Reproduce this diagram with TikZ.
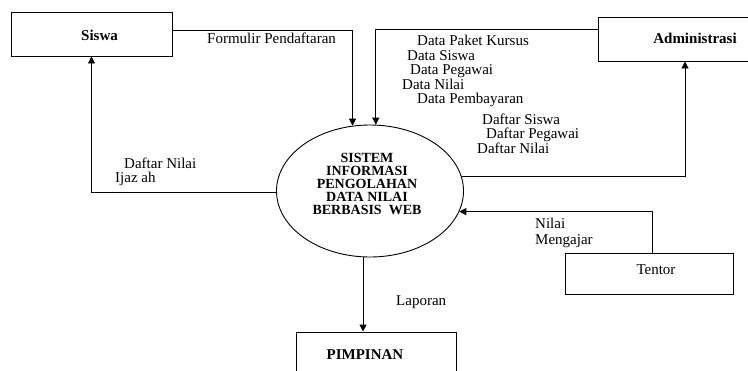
\documentclass[tikz,border=0pt]{standalone}
\usepackage{fontspec}
\setmainfont{Liberation Serif}
\usetikzlibrary{arrows.meta,shapes.geometric}
\begin{document}
\begin{tikzpicture}[x=1pt,y=-1pt,
  every node/.style={font=\fontsize{15}{12.75}\selectfont},
  box/.style={draw,line width=0.9pt,rectangle,inner sep=0pt},
  btxt/.style={font=\fontsize{15}{12.75}\selectfont\bfseries},
  etxt/.style={font=\fontsize{14}{12.9}\selectfont\bfseries},
  lbl/.style={anchor=base west,inner sep=0pt},
  arr/.style={draw,line width=0.9pt,-{Triangle[length=7pt,width=7pt]}},
  ln/.style={draw,line width=0.9pt}]
\useasboundingbox (0,0) rectangle (748,370);
\clip (0,0) rectangle (748,370);
% entities
\node[box,minimum width=161pt,minimum height=44pt,
  label={[btxt,xshift=8pt,yshift=-1pt]center:Siswa}] (Siswa) at (91.5,34) {};
\node[box,minimum width=194pt,minimum height=44pt,
  label={[btxt,yshift=1pt]center:Administrasi}] (Admin) at (695,39) {};
\node[box,minimum width=168pt,minimum height=41pt,
  label={[xshift=7pt,yshift=4pt]center:Tentor}] (Tentor) at (649,273.5) {};
\node[box,minimum width=160pt,minimum height=46pt,
  label={[btxt,xshift=-11pt]center:PIMPINAN}] (Pimp) at (376,355) {};
% process
\node[draw,line width=0.9pt,ellipse,minimum width=187pt,minimum height=132pt,inner sep=0pt,
  label={[etxt,align=center,xshift=-3pt,yshift=7pt]center:SISTEM\\INFORMASI\\PENGOLAHAN\\DATA NILAI\\BERBASIS\ \ WEB}] (E) at (370,191) {};
% flows
\path[arr] ([yshift=4pt]Siswa.east) -| (E.105.5);
\path[arr] ([yshift=10pt]Admin.west) -| (E.85.7);
\path[arr] (E.9.4) -| ([xshift=-10pt]Admin.south);
\path[arr] (E.181.8) -| (Siswa.south);
\path[arr] ([xshift=3pt]Tentor.north) |- (E.347.3);
\path[arr] (E.264.8) -- (E.264.8 |- Pimp.north);
% labels
\node[lbl] (l1) at (207,43) {Formulir Pendaftaran};
\node[lbl] (l2) at (417,45) {Data Paket Kursus};
\node[lbl] (l3) at (407,60) {Data Siswa};
\node[lbl] (l4) at (410,74) {Data Pegawai};
\node[lbl] (l5) at (402,89) {Data Nilai};
\node[lbl] (l6) at (417,103) {Data Pembayaran};
\node[lbl] (l7) at (482,124) {Daftar Siswa};
\node[lbl] (l8) at (486,138) {Daftar Pegawai};
\node[lbl] (l9) at (477,153) {Daftar Nilai};
\node[lbl] (l10) at (124,168) {Daftar Nilai};
\node[lbl] (l11) at (115,182) {Ijaz ah};
\node[lbl] (l12) at (535,228.5) {Nilai};
\node[lbl] (l13) at (535,244) {Mengajar};
\node[lbl] (l14) at (396,305) {Laporan};
\end{tikzpicture}
\end{document}
